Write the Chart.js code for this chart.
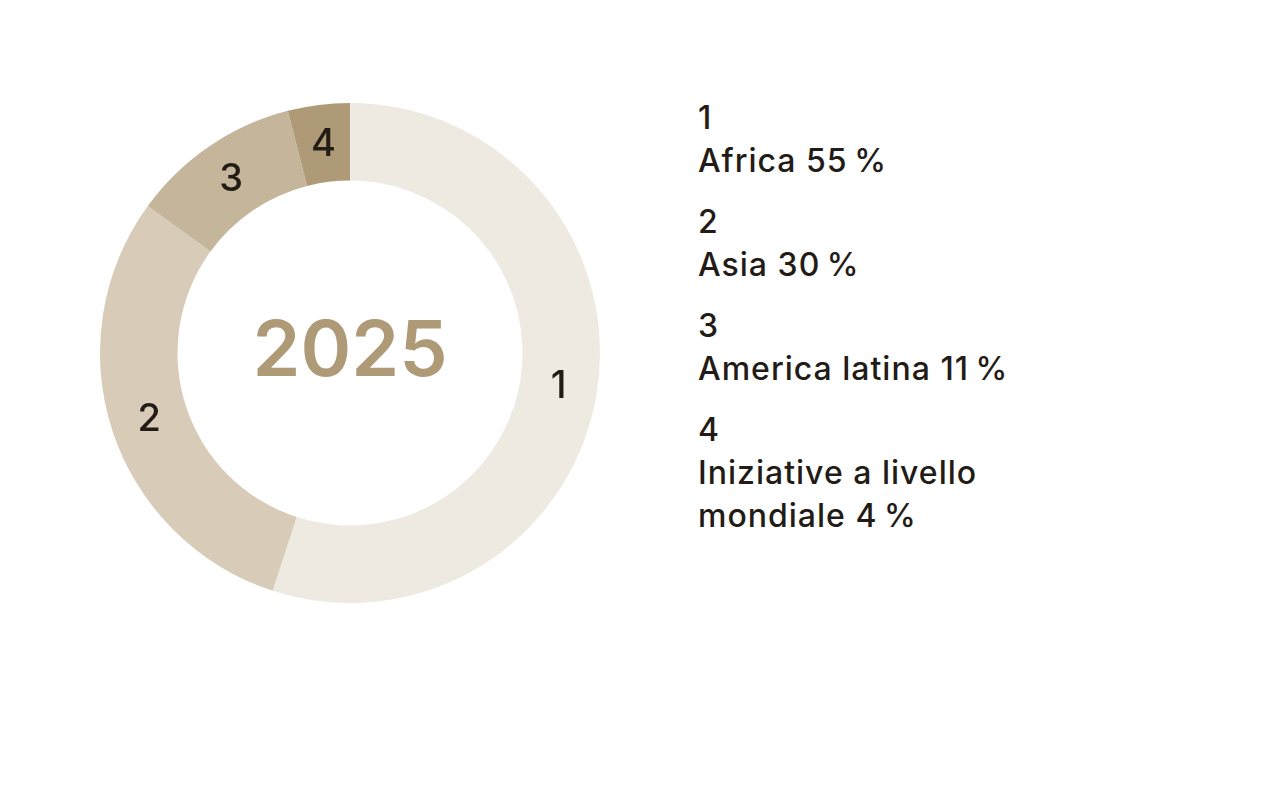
<!DOCTYPE html>
<html>
<head>
<meta charset="utf-8">
<script src="https://cdn.jsdelivr.net/npm/chart.js@4"></script>
<style>
    body { margin: 0; background: #fff; width: 1280px; height: 800px; overflow: hidden; font-family: "Inter", "Noto Sans", sans-serif; }
    #wrap { position: absolute; left: 100px; top: 103px; width: 500px; height: 500px; }
    #legend { position: absolute; left: 698px; top: 96px; color: #231b16; font-size: 32px; font-weight: 500; letter-spacing: 1px; }
    #legend .item { margin-bottom: 18px; line-height: 43px; }
    #legend .lbl { width: 320px; }
</style>
</head>
<body>
<div id="wrap"><canvas id="donutChart" width="500" height="500"></canvas></div>
<div id="legend"></div>
<script>
    // dati del grafico
    var numeri = ['1', '2', '3', '4'];
    var regioni = ['Africa', 'Asia', 'America latina', 'Iniziative a livello mondiale'];
    var valori = [55, 30, 11, 4];
    var colori = ['#eeeae2', '#d8ccb9', '#c4b59b', '#ae9a76'];
    var anno = '2025';

    // etichette dentro le fette + anno al centro
    var labelPlugin = {
        id: 'sliceLabels',
        afterDatasetsDraw: function (chart) {
            var ctx = chart.ctx;
            var meta = chart.getDatasetMeta(0);
            ctx.save();
            ctx.textAlign = 'center';
            ctx.textBaseline = 'middle';
            ctx.fillStyle = '#231b16';
            ctx.font = '500 38px Inter, "Noto Sans", sans-serif';
            for (var i = 0; i < meta.data.length; i++) {
                var p = meta.data[i].tooltipPosition();
                ctx.fillText(numeri[i], p.x, p.y + 1);
            }
            var c = meta.data[0];
            ctx.fillStyle = '#ae9a76';
            ctx.font = '600 77px Inter, "Noto Sans", sans-serif';
            ctx.fillText(anno, c.x, c.y);
            ctx.restore();
        }
    };

    var donut = new Chart(document.getElementById('donutChart').getContext('2d'), {
        type: 'doughnut',
        data: {
            labels: regioni,
            datasets: [{
                data: valori,
                backgroundColor: colori,
                borderWidth: 0
            }]
        },
        options: {
            responsive: false,
            animation: false,
            cutout: '69%',
            layout: { padding: 0 },
            plugins: {
                legend: { display: false },
                tooltip: { enabled: false }
            }
        },
        plugins: [labelPlugin]
    });

    // legenda a destra
    var legend = document.getElementById('legend');
    var html = [];
    for (var i = 0; i < regioni.length; i++) {
        html.push('<div class="item"><div>' + numeri[i] + '</div><div class="lbl">' + regioni[i] + ' ' + valori[i] + '\u2009%</div></div>');
    }
    legend.innerHTML = html.join('');
</script>
</body>
</html>
